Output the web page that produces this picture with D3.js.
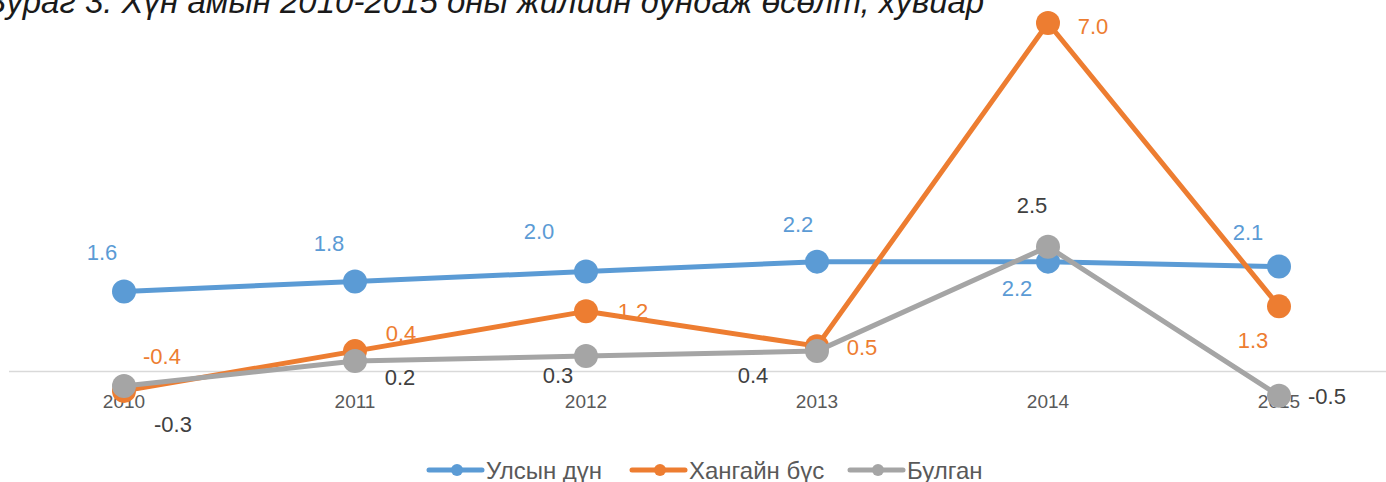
<!DOCTYPE html>
<html>
<head>
<meta charset="utf-8">
<script src="https://cdn.jsdelivr.net/npm/d3@7"></script>
<style>
  body { margin: 0; background: #fff; }
  svg { display: block; font-family: "Liberation Sans", Arial, sans-serif; }
</style>
</head>
<body>
<div id="viz"></div>
<script>
// data
var years = ["2010", "2011", "2012", "2013", "2014", "2015"];
var seriesNames = ["Улсын дүн", "Хангайн бүс", "Булган"];
var ulsValues = [1.6, 1.8, 2.0, 2.2, 2.2, 2.1];
var khangaiValues = [-0.4, 0.4, 1.2, 0.5, 7.0, 1.3];
var bulganValues = [-0.3, 0.2, 0.3, 0.4, 2.5, -0.5];
var titleText = "Зураг 3. Хүн амын 2010-2015 оны жилийн дундаж өсөлт, хувиар";

// styling, kept apart from the values
var colors = ["#5B9BD5", "#ED7D31", "#A5A5A5"];
var labelColors = ["#5B9BD5", "#ED7D31", "#404040"];
// label offsets from each point (dx, dy), as placed in the original
var labelOffsets = [
	[[-22,-39],[-26,-38],[-47,-40],[-19,-37],[-31,27],[-31,-34]],
	[[38,-34],[46,-18],[47,0],[45,1],[45,3],[-26,34]],
	[[49,39],[45,16],[-28,19],[-64,24],[-16,-41],[48,1]]
];

var W = 1386, H = 482;
var svg = d3.select("#viz")
	.append("svg")
	.attr("width", W)
	.attr("height", H);

var allSeries = [ulsValues, khangaiValues, bulganValues];

var x = d3.scaleBand()
	.domain(years)
	.range([8.5, 1394.5])
	.padding(0);
var cx = function(d){ return x(d) + x.bandwidth() / 2; };

var y = d3.scaleLinear()
	.domain([0, 7])
	.range([371, 23]);

// title (cut at the top in the original)
svg.append("text")
	.attr("x", -14)
	.attr("y", 13)
	.attr("font-size", 33)
	.attr("font-style", "italic")
	.attr("fill", "#1a1a1a")
	.text(titleText);

// zero axis
var xAxis = d3.axisBottom(x).tickSize(0).tickPadding(24);
var gx = svg.append("g")
	.attr("transform", "translate(0," + y(0) + ")")
	.call(xAxis);
gx.select(".domain").attr("stroke", "#d9d9d9").attr("stroke-width", 1.5);
gx.selectAll(".tick text")
	.attr("font-size", 19)
	.attr("fill", "#595959")
	.attr("font-family", "'Liberation Sans', Arial, sans-serif");

// data labels (drawn under the lines)
allSeries.forEach(function(vals, s){
	svg.append("g").selectAll("text")
		.data(vals)
		.enter()
		.append("text")
		.attr("x", function(d, i){ return cx(years[i]) + labelOffsets[s][i][0]; })
		.attr("y", function(d, i){ return y(d) + labelOffsets[s][i][1]; })
		.attr("text-anchor", "middle")
		.attr("dominant-baseline", "central")
		.attr("font-size", 22)
		.attr("fill", labelColors[s])
		.text(function(d){ return d3.format(".1f")(d).replace("−", "-"); });
});

// lines and markers
var line = d3.line()
	.x(function(d, i){ return cx(years[i]); })
	.y(function(d){ return y(d); });

allSeries.forEach(function(vals, s){
	var g = svg.append("g");
	g.append("path")
		.datum(vals)
		.attr("d", line)
		.attr("fill", "none")
		.attr("stroke", colors[s])
		.attr("stroke-width", 5)
		.attr("stroke-linejoin", "round")
		.attr("stroke-linecap", "round");
	g.selectAll("circle")
		.data(vals)
		.enter()
		.append("circle")
		.attr("cx", function(d, i){ return cx(years[i]); })
		.attr("cy", function(d){ return y(d); })
		.attr("r", 12)
		.attr("fill", colors[s]);
});

// legend
var legendX = [429, 632, 850];
var legend = svg.append("g").attr("transform", "translate(0,470)");
seriesNames.forEach(function(name, s){
	var lg = legend.append("g").attr("transform", "translate(" + legendX[s] + ",0)");
	lg.append("line")
		.attr("x1", 0).attr("x2", 53)
		.attr("stroke", colors[s])
		.attr("stroke-width", 5)
		.attr("stroke-linecap", "round");
	lg.append("circle")
		.attr("cx", 28)
		.attr("r", 6)
		.attr("fill", colors[s]);
	lg.append("text")
		.attr("x", 57)
		.attr("dominant-baseline", "central")
		.attr("font-size", 24)
		.attr("fill", "#595959")
		.text(name);
});
</script>
</body>
</html>
